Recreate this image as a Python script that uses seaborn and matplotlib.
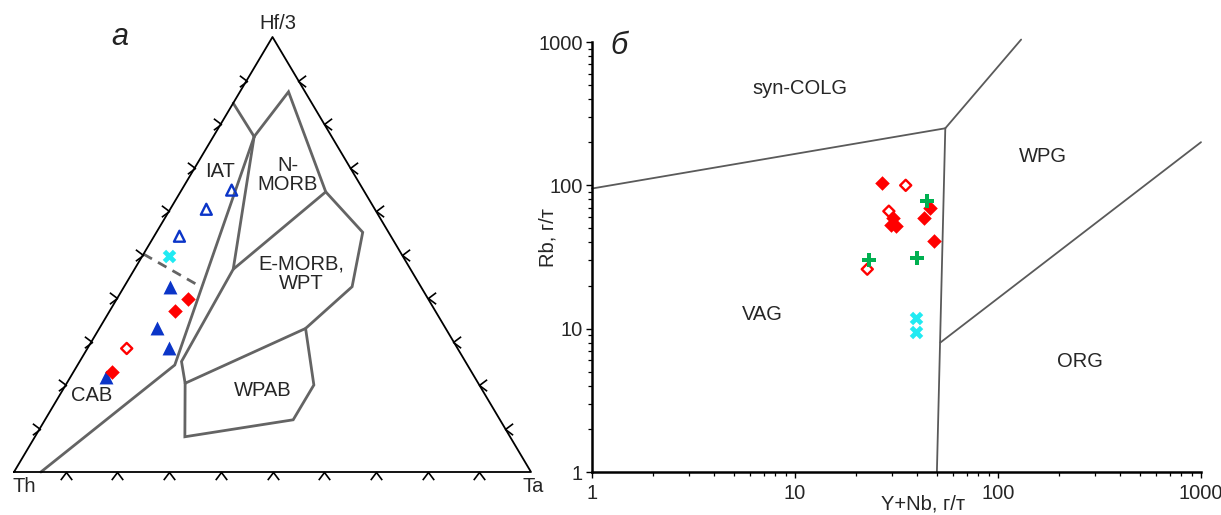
import numpy as np
import pandas as pd
import matplotlib
matplotlib.use("Agg")
import matplotlib.pyplot as plt
from matplotlib.path import Path
import seaborn as sns

# ---------------- Panel а : Th – Hf/3 – Ta (%)
open_tri_th = [25.5, 32.6, 40.9]
open_tri_hf = [64.8, 60.4, 54.2]
open_tri_ta = [9.7, 7.0, 4.9]

cross_th = [45.2]
cross_hf = [49.7]
cross_ta = [5.1]

fill_tri_th = [48.6, 55.8, 55.8, 71.3]
fill_tri_hf = [42.5, 33.2, 28.6, 21.9]
fill_tri_ta = [8.9, 11.0, 15.6, 6.8]

fill_dia_th = [46.4, 50.4, 69.6]
fill_dia_hf = [39.8, 37.0, 22.9]
fill_dia_ta = [13.8, 12.6, 7.5]

open_dia_th = [64.0]
open_dia_hf = [28.4]
open_dia_ta = [7.6]

# field boundaries as (Th, Hf/3, Ta) %
bnd_iat_top = [(15.2, 84.8, 0.0), (15.0, 77.1, 7.9)]
bnd_nmorb = [(15.0, 77.1, 7.9), (3.2, 87.4, 9.4), (7.5, 64.4, 28.1),
             (34.3, 46.6, 19.1), (15.0, 77.1, 7.9)]
bnd_emorb = [(7.5, 64.4, 28.1), (5.0, 55.1, 39.9), (13.3, 42.6, 44.1), (27.1, 33.0, 39.9)]
bnd_wpab = [(34.3, 46.6, 19.1), (54.9, 25.4, 19.7), (56.7, 20.4, 22.9), (62.9, 8.1, 29.0),
            (40.0, 12.0, 48.0), (32.0, 20.0, 48.0), (27.1, 33.0, 39.9), (56.7, 20.4, 22.9)]
bnd_arc = [(15.0, 77.1, 7.9), (56.6, 24.6, 18.8), (94.8, 0.0, 5.2)]
bnd_dash = [(49.9, 50.1, 0.0), (42.6, 42.6, 14.8)]

tick_fracs = [10, 20, 30, 40, 50, 60, 70, 80, 90]

# ---------------- Panel б : Rb vs Y+Nb (ppm)
ynb_fill = [26.8, 30.3, 29.7, 31.5, 43.4, 46.2, 48.4]
rb_fill = [103, 59, 53, 52, 59, 70, 41]
ynb_open = [35.1, 29.0, 22.7]
rb_open = [100, 66, 26]
ynb_green = [44.7, 23.1, 39.8]
rb_green = [78, 30, 31]
ynb_cyan = [39.4, 39.4]
rb_cyan = [11.8, 9.5]

colg_x, colg_y = [1, 55], [95, 250]
wpg_x, wpg_y = [55, 130], [250, 1040]
vag_x, vag_y = [55, 50], [250, 1]
org_x, org_y = [52, 1000], [8, 200]

log_ticks = [1, 10, 100, 1000]
log_labels = ["1", "10", "100", "1000"]

RED = "#ff0000"
BLUE = "#0b35c8"
CYAN = "#20eaf2"
GREEN = "#00b050"
GRAY = "#646464"

sns.set_style("white")
plt.rcParams["font.family"] = ["Liberation Sans", "DejaVu Sans"]


def tern(th, hf, ta):
    th, hf, ta = (np.asarray(v, float) for v in (th, hf, ta))
    s = th + hf + ta
    return (ta + hf / 2) / s, hf / s


W, H = 1221, 515
fig = plt.figure(figsize=(W / 100, H / 100), dpi=100)

# ======================= ternary =======================
ax1 = fig.add_axes([14 / W, 43 / H, 517 / W, 435 / H])
ax1.set_xlim(0, 1)
ax1.set_ylim(0, 1)
ax1.axis("off")

corner = tern([100, 0, 0, 100], [0, 0, 100, 0], [0, 100, 0, 0])
ax1.plot(corner[0], corner[1], color="black", lw=1.3, clip_on=False, zorder=3)

for poly in [bnd_iat_top, bnd_nmorb, bnd_emorb, bnd_wpab, bnd_arc]:
    arr = np.array(poly)
    x, y = tern(arr[:, 0], arr[:, 1], arr[:, 2])
    ax1.plot(x, y, color=GRAY, lw=2.0, solid_joinstyle="miter", clip_on=False, zorder=2)
arr = np.array(bnd_dash)
x, y = tern(arr[:, 0], arr[:, 1], arr[:, 2])
ax1.plot(x, y, color=GRAY, lw=2.0, ls=(0, (3.5, 2.5)), clip_on=False, zorder=2)

# chevron ticks
cv = [Path.MOVETO, Path.LINETO, Path.LINETO]
chev_up = Path([(-0.75, -1), (0, 0), (0.75, -1)], cv)
chev_right = Path([(-1, 0.75), (0, 0), (-1, -0.75)], cv)
chev_left = Path([(1, 0.75), (0, 0), (1, -0.75)], cv)
tf = np.array(tick_fracs, float)
bx, by = tern(100 - tf, np.zeros_like(tf), tf)
lx, ly = tern(100 - tf, tf, np.zeros_like(tf))
rx, ry = tern(np.zeros_like(tf), tf, 100 - tf)
for (xx, yy, mk) in [(bx, by, chev_up), (lx, ly, chev_right), (rx, ry, chev_left)]:
    ax1.plot(xx, yy, ls="none", marker=mk, ms=11, mfc="none", mec="black",
             mew=1.2, clip_on=False, zorder=3)

series_a = [
    (fill_tri_th, fill_tri_hf, fill_tri_ta, "^", 100, BLUE, BLUE, 0),
    (open_tri_th, open_tri_hf, open_tri_ta, "^", 62, "none", BLUE, 1.7),
    (cross_th, cross_hf, cross_ta, "X", 95, CYAN, CYAN, 0),
    (fill_dia_th, fill_dia_hf, fill_dia_ta, "D", 55, RED, RED, 0),
    (open_dia_th, open_dia_hf, open_dia_ta, "D", 32, "none", RED, 1.7),
]
for i, (th, hf, ta, mk, s, fc, ec, lw) in enumerate(series_a):
    x, y = tern(th, hf, ta)
    df = pd.DataFrame({"x": x, "y": y})
    sns.scatterplot(data=df, x="x", y="y", ax=ax1, marker=mk, s=s, color=ec,
                    facecolor=fc, edgecolor=ec, linewidth=lw, legend=False,
                    clip_on=False, zorder=5 + i)
ax1.set_xlabel("")
ax1.set_ylabel("")

fs = 14.5
ax1.text(0.019, -0.033, "Th", fontsize=fs, ha="center", va="center")
ax1.text(1.0045, -0.033, "Ta", fontsize=fs, ha="center", va="center")
ax1.text(0.5106, 1.032, "Hf/3", fontsize=fs, ha="center", va="center")
ax1.text(0.2046, 1.0, "а", fontsize=22, style="italic", ha="center", va="center",
         color="#222222")
ax1.text(0.399, 0.690, "IAT", fontsize=fs, ha="center", va="center")
ax1.text(0.529, 0.683, "N-\nMORB", fontsize=fs, ha="center", va="center", linespacing=0.98)
ax1.text(0.555, 0.456, "E-MORB,\nWPT", fontsize=fs, ha="center", va="center", linespacing=1.05)
ax1.text(0.4805, 0.187, "WPAB", fontsize=fs, ha="center", va="center")
ax1.text(0.1495, 0.177, "CAB", fontsize=fs, ha="center", va="center")

# ======================= Rb vs Y+Nb =======================
ax2 = fig.add_axes([592 / W, 43 / H, 609 / W, 430 / H])
ax2.set_xscale("log")
ax2.set_yscale("log")
ax2.set_xlim(1, 1000)
ax2.set_ylim(1, 1000)

for xs, ys in [(colg_x, colg_y), (wpg_x, wpg_y), (vag_x, vag_y), (org_x, org_y)]:
    ax2.plot(xs, ys, color="#5a5a5a", lw=1.3, clip_on=False, zorder=2)

series_b = [
    (ynb_fill, rb_fill, "D", 55, RED, RED, 0),
    (ynb_open, rb_open, "D", 32, "none", RED, 1.7),
    (ynb_green, rb_green, "P", 105, GREEN, GREEN, 0),
    (ynb_cyan, rb_cyan, "X", 95, CYAN, CYAN, 0),
]
for i, (xs, ys, mk, s, fc, ec, lw) in enumerate(series_b):
    df = pd.DataFrame({"x": xs, "y": ys})
    sns.scatterplot(data=df, x="x", y="y", ax=ax2, marker=mk, s=s, color=ec,
                    facecolor=fc, edgecolor=ec, linewidth=lw, legend=False,
                    clip_on=False, zorder=5 + i)
ax2.set_xlabel("")
ax2.set_ylabel("")

for sp in ["top", "right"]:
    ax2.spines[sp].set_visible(False)
for sp in ["left", "bottom"]:
    ax2.spines[sp].set_linewidth(1.8)
    ax2.spines[sp].set_color("black")

ax2.set_xticks(log_ticks)
ax2.set_xticklabels(log_labels)
ax2.set_yticks(log_ticks)
ax2.set_yticklabels(log_labels)
ax2.xaxis.set_minor_locator(matplotlib.ticker.LogLocator(base=10, subs=np.arange(2, 10)))
ax2.yaxis.set_minor_locator(matplotlib.ticker.LogLocator(base=10, subs=np.arange(2, 10)))
ax2.xaxis.set_minor_formatter(matplotlib.ticker.NullFormatter())
ax2.yaxis.set_minor_formatter(matplotlib.ticker.NullFormatter())
ax2.tick_params(which="both", bottom=True, left=True, top=False, right=False,
                direction="out", color="black")
ax2.tick_params(which="major", length=4.5, width=1.0, labelsize=fs)
ax2.tick_params(which="minor", length=3.2, width=0.9)
ax2.tick_params(axis="y", which="major", pad=2)
ax2.tick_params(axis="x", which="major", pad=4)

ax2.text(10.56, 476, "syn-COLG", fontsize=fs, ha="center", va="center")
ax2.text(165.8, 158.6, "WPG", fontsize=fs, ha="center", va="center")
ax2.text(6.91, 12.46, "VAG", fontsize=fs, ha="center", va="center")
ax2.text(253.5, 5.88, "ORG", fontsize=fs, ha="center", va="center")
ax2.text(0.045, 0.99, "б", transform=ax2.transAxes, fontsize=22, style="italic",
         ha="center", va="center", color="#222222")
ax2.text(-0.0722, 0.5465, "Rb, г/т", transform=ax2.transAxes, fontsize=fs,
         rotation=90, ha="center", va="center")
ax2.text(0.5435, -0.0965, "Y+Nb, г/т", transform=ax2.transAxes, fontsize=fs,
         ha="center", va="bottom", clip_on=False)

fig.savefig("out.png", dpi=100, facecolor="white")
